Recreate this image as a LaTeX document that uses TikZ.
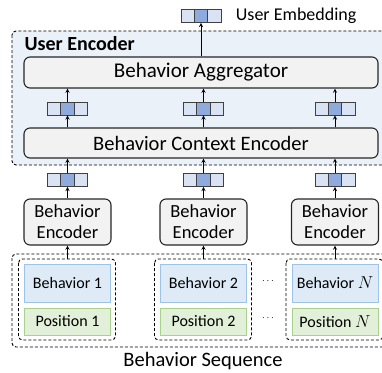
\documentclass[tikz,border=0pt]{standalone}
\usepackage{fontspec}
\setmainfont{Carlito}
\usetikzlibrary{positioning}
\definecolor{encbg}{HTML}{EAF1F9}
\definecolor{blockbg}{HTML}{F2F2F2}
\definecolor{behbg}{HTML}{DEEBF7}
\definecolor{behline}{HTML}{9DC3E6}
\definecolor{posbg}{HTML}{E2F0D9}
\definecolor{posline}{HTML}{A9D18E}
\definecolor{veclight}{HTML}{DAE3F3}
\definecolor{vecdark}{HTML}{8FAADC}
\tikzset{
  block/.style={draw=black!85,fill=blockbg,rounded corners=6pt,line width=1.1pt,inner sep=0pt},
  grp/.style={draw,dash pattern=on 3pt off 2pt,line width=0.9pt,rounded corners=4pt},
  behbox/.style={draw=behline,fill=behbg,line width=1pt,minimum width=86,minimum height=38,font=\fontsize{16}{18}\selectfont},
  posbox/.style={draw=posline,fill=posbg,line width=1pt,minimum width=86,minimum height=27,font=\fontsize{16}{18}\selectfont},
  vec/.style={draw=black!75,fill=veclight,line width=0.8pt,minimum width=40,minimum height=13,inner sep=0pt},
  mid/.style={draw=black!75,fill=vecdark,line width=0.8pt,minimum width=13.3,minimum height=13,inner sep=0pt}
}
\newcommand{\vecnode}[3]{\node[vec](#1)at(#2,#3){};\node[mid]at(#1){};}
\begin{document}
\begin{tikzpicture}[x=1pt,y=-1pt,>=stealth]
\clip(0,0)rectangle(382,372);
% user encoder
\draw[grp,fill=encbg](12,31)rectangle(400,165);
\node[anchor=west,font=\fontsize{20}{22}\bfseries](ue)at(21,44){User Encoder};
\node[block,minimum width=354,minimum height=31,font=\fontsize{21}{24}\selectfont](agg)at(201,72.5){Behavior Aggregator};
\node[block,minimum width=354,minimum height=30,font=\fontsize{20.5}{24}\selectfont](bce)at(201,143){Behavior Context Encoder};
\vecnode{emb}{201}{16}
\node[right=11pt of emb,font=\fontsize{18}{20}\selectfont]{User Embedding};
\draw[->,line width=0.9pt](agg.north)--(emb.south);
% behavior sequence
\draw[grp](12,254)rectangle(400,347);
\node[inner sep=0pt,font=\fontsize{20.5}{24}\selectfont](seq)at(203,361.5){Behavior Sequence};
\foreach \i/\x/\n in{1/67.5/1,2/203.5/2,3/335/$N$}{
  \vecnode{h\i}{\x}{108.5}
  \vecnode{e\i}{\x}{180}
  \node[block,minimum width=87,minimum height=46,align=center,font=\fontsize{18.5}{21}\selectfont](enc\i)at(\x,222){Behavior\\Encoder};
  \node[behbox](b\i)at(\x,283){Behavior \n};
  \node[posbox](p\i)at(\x,321.5){Position \n};
  \draw[grp](\x-49,259)rectangle(\x+48,340);
  \coordinate(g\i)at(\x,259);
  \draw[->,line width=0.9pt](bce.north-|h\i)--(h\i.south);
  \draw[->,line width=0.9pt](h\i.north)--(h\i.north|-agg.south);
  \draw[->,line width=0.9pt](enc\i.north)--(e\i.south);
  \draw[->,line width=0.9pt](e\i.north)--(e\i.north|-bce.south);
  \draw[->,line width=0.9pt](g\i)--(enc\i.south);
}
\node(d1)at(268,281){$\cdots$};
\node(d2)at(268,318){$\cdots$};
\end{tikzpicture}
\end{document}
